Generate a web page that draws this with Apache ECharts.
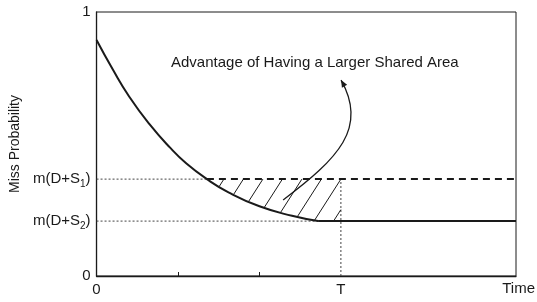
<!DOCTYPE html>
<html>
<head>
<meta charset="utf-8">
<script src="https://cdn.jsdelivr.net/npm/echarts@6/dist/echarts.min.js"></script>
<style>
html,body{margin:0;padding:0;background:#fff;}
#c{width:537px;height:302px;}
</style>
</head>
<body>
<div id="c"></div>
<script>
// ---- data ----
const curveX = [0, 0.2, 0.4, 0.65, 0.9, 1.1, 1.355, 1.62, 2.0, 2.4, 2.72];
const curveY = [0.894, 0.782, 0.680, 0.575, 0.487, 0.427, 0.367, 0.317, 0.264, 0.228, 0.208];
const levelS1 = 0.367;         // m(D+S1)
const levelS2 = 0.208;         // m(D+S2)
const timeT = 3;               // T
const s1Cross = 1.355;         // where curve meets m(D+S1)
const s2Join = 2.72;           // where curve reaches m(D+S2)
const xMax = 5.15;
const xTickValues = [1, 2];
const xLabelValues = [0, 3];
const xLabelNames = {0: '0', 3: 'T'};
const yLabelValues = [0, 0.208, 0.367, 1];
const annotationText = 'Advantage of Having a Larger Shared Area';
// arrow path in data units (tail, control1, control2, head)
const arrowPts = [[2.291, 0.288], [2.962, 0.444], [3.338, 0.561], [3.002, 0.742]];

const FONT = '"Liberation Sans", Arial, Helvetica, sans-serif';
const INK = '#1a1a1a';

const curveData = curveX.map((x, i) => [x, curveY[i]]);
const flatData = [[s2Join, levelS2], [xMax, levelS2]];
const boundary = curveData.concat([[xMax, levelS2]]);

const chart = echarts.init(document.getElementById('c'), null, {renderer: 'canvas'});

function renderAnnot(params, api) {
  const yS1 = api.coord([0, levelS1])[1];
  const pT = api.coord([timeT, 0])[0];
  const pStart = api.coord([s1Cross, levelS1])[0];
  const pts = boundary.map(d => api.coord(d));
  function lowerY(px) {
    for (let i = 0; i < pts.length - 1; i++) {
      if (px >= pts[i][0] && px <= pts[i + 1][0]) {
        const t = (px - pts[i][0]) / (pts[i + 1][0] - pts[i][0]);
        return pts[i][1] + t * (pts[i + 1][1] - pts[i][1]);
      }
    }
    return pts[pts.length - 1][1];
  }
  const children = [];
  const k = 0.64, step = 19.5;
  for (let xt = pStart + 17; xt < pT + 40; xt += step) {
    let sx, sy;
    if (xt <= pT) { sx = xt; sy = yS1; }
    else { sx = pT; sy = yS1 + (xt - pT) / k; }
    if (sy >= lowerY(sx)) continue;
    let ex = sx, ey = sy;
    for (let d = 0; d < 200; d += 0.25) {
      const x = sx - k * d, y = sy + d;
      if (y >= lowerY(x) - 0.5) { ex = x; ey = y; break; }
    }
    children.push({type: 'line', shape: {x1: sx, y1: sy, x2: ex, y2: ey},
      style: {stroke: INK, lineWidth: 1}});
  }
  const a = arrowPts.map(p => api.coord(p));
  children.push({type: 'bezierCurve',
    shape: {x1: a[0][0], y1: a[0][1], cpx1: a[1][0], cpy1: a[1][1],
            cpx2: a[2][0], cpy2: a[2][1], x2: a[3][0], y2: a[3][1]},
    style: {stroke: INK, lineWidth: 1.3, fill: null}});
  const dx = a[3][0] - a[2][0], dy = a[3][1] - a[2][1];
  const L = Math.hypot(dx, dy), ux = dx / L, uy = dy / L;
  const hl = 7, hw = 3;
  const bx = a[3][0] - ux * hl, by = a[3][1] - uy * hl;
  children.push({type: 'polygon', shape: {points: [
    [a[3][0], a[3][1]], [bx - uy * hw, by + ux * hw], [bx + uy * hw, by - ux * hw]]},
    style: {fill: INK}});
  return {type: 'group', children};
}

const thinDot = {color: '#444', width: 1, type: [2, 2]};

chart.setOption({
  animation: false,
  backgroundColor: '#fff',
  title: {
    text: annotationText, left: 171, top: 55, padding: 0,
    textStyle: {fontFamily: FONT, fontSize: 15, fontWeight: 'normal', color: INK}
  },
  graphic: [{
    type: 'text', right: 2, top: 281,
    style: {text: 'Time', font: '15px ' + FONT, fill: INK}
  }],
  grid: {left: 94, right: 21, top: 12, bottom: 26, show: true,
         borderColor: INK, borderWidth: 1, backgroundColor: 'transparent'},
  xAxis: {
    type: 'value', min: 0, max: xMax,
    axisLine: {show: true, lineStyle: {color: INK, width: 1.3}},
    axisTick: {show: true, inside: true, length: 4, customValues: xTickValues,
               lineStyle: {color: INK}},
    axisLabel: {customValues: xLabelValues, margin: 6,
                formatter: v => xLabelNames[v] !== undefined ? xLabelNames[v] : '',
                fontFamily: FONT, fontSize: 15, color: INK},
    splitLine: {show: false}
  },
  yAxis: {
    type: 'value', min: 0, max: 1,
    name: 'Miss Probability', nameLocation: 'middle', nameGap: 71,
    nameTextStyle: {fontFamily: FONT, fontSize: 14, color: INK},
    axisLine: {show: true, lineStyle: {color: INK, width: 1.3}},
    axisTick: {show: false},
    axisLabel: {customValues: yLabelValues, margin: 6,
      formatter: v => {
        if (v === 0) return '{m|0}';
        if (v === 1) return '{m|1}';
        if (Math.abs(v - levelS1) < 1e-6) return '{m|m(D+S}{s|1}{m|)}';
        if (Math.abs(v - levelS2) < 1e-6) return '{m|m(D+S}{s|2}{m|)}';
        return '';
      },
      rich: {
        m: {fontFamily: FONT, fontSize: 15, color: INK, lineHeight: 20, verticalAlign: 'middle'},
        s: {fontFamily: FONT, fontSize: 10, color: INK, lineHeight: 10, verticalAlign: 'bottom', padding: [6, 0, 0, 0]}
      }
    },
    splitLine: {show: false}
  },
  series: [
    {type: 'line', data: [[0, levelS1], [s1Cross, levelS1]], symbol: 'none', lineStyle: thinDot, z: 1},
    {type: 'line', data: [[0, levelS2], [s2Join, levelS2]], symbol: 'none', lineStyle: thinDot, z: 1},
    {type: 'line', data: [[timeT, 0], [timeT, levelS1]], symbol: 'none', lineStyle: thinDot, z: 1},
    {type: 'line', data: [[s1Cross, levelS1], [xMax, levelS1]], symbol: 'none',
     lineStyle: {color: INK, width: 2, type: [7, 5]}, z: 2},
    {type: 'line', data: curveData, symbol: 'none', smooth: 0.5,
     lineStyle: {color: INK, width: 2}, z: 3},
    {type: 'line', data: flatData, symbol: 'none',
     lineStyle: {color: INK, width: 2}, z: 3},
    {type: 'custom', data: [[0, 0]], renderItem: renderAnnot, z: 4, silent: true}
  ]
});
</script>
</body>
</html>
